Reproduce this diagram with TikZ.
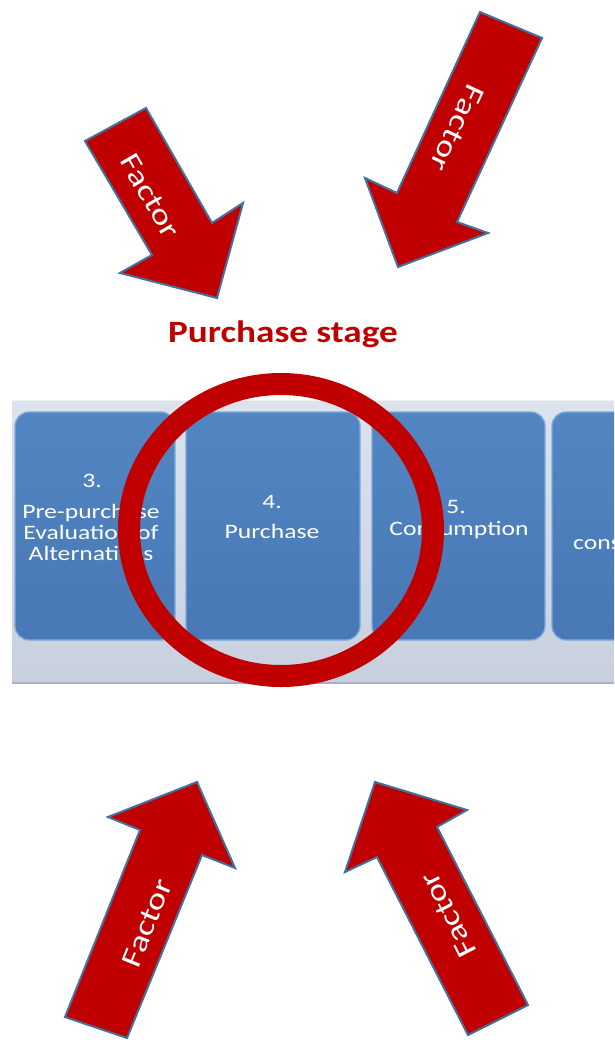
\documentclass[tikz,border=0pt]{standalone}
\usepackage{fontspec}
\setmainfont{Carlito}
\usetikzlibrary{shapes.geometric}
\definecolor{fred}{HTML}{C00000}
\definecolor{foutline}{HTML}{41719C}
\definecolor{boxtop}{HTML}{5286C2}
\definecolor{boxbot}{HTML}{4878B5}
\definecolor{boxedge}{HTML}{7EAADD}
\definecolor{bandtop}{HTML}{DDE3EC}
\definecolor{bandbot}{HTML}{C8D0DF}
\definecolor{bandedge}{HTML}{A7B1C2}
\tikzset{
  factorarrow/.style={fill=fred, draw=foutline, line width=2pt, line join=miter},
  factortext/.style={text=white, font=\fontsize{29}{32}\selectfont, inner sep=0pt},
  stagebox/.style={rounded corners=14pt, top color=boxtop, bottom color=boxbot, draw=boxedge, line width=1.3pt},
  boxtext/.style={text=white, font=\fontsize{20.5}{21}\selectfont, inner sep=0pt, anchor=base},
}
\newcommand{\wide}[2]{\scalebox{#1}[1]{#2}}
\begin{document}
\begin{tikzpicture}[x=1pt,y=-1pt]
\useasboundingbox (0,0) rectangle (614,1042);
\clip (0,0) rectangle (614,1042);
\fill[white] (0,0) rectangle (614,1042);

% band
\shade[top color=bandtop, bottom color=bandbot] (12,400) rectangle (640,683);
\draw[bandedge, line width=1.5pt] (12,683) -- (640,683);
\draw[white!85!bandedge, line width=1pt] (12,400.5) -- (640,400.5);

% boxes
\path[stagebox] (15,412) rectangle (175,640);
\path[stagebox] (186,412) rectangle (360,640);
\path[stagebox] (372,412) rectangle (545,640);
\path[stagebox] (552,412) rectangle (730,640);

% box texts
\node[boxtext] (b1a) at (92,487) {\wide{1.25}{3.}};
\node[boxtext] (b1b) at (91,518) {\wide{1.25}{Pre-purchase}};
\node[boxtext] (b1c) at (91,539) {\wide{1.25}{Evaluation of}};
\node[boxtext] (b1d) at (91,560) {\wide{1.25}{Alternatives}};
\node[boxtext] (b2a) at (272,508) {\wide{1.25}{4.}};
\node[boxtext] (b2b) at (272,538) {\wide{1.25}{Purchase}};
\node[boxtext] (b3a) at (456,513) {\wide{1.25}{5.}};
\node[boxtext] (b3b) at (459,535) {\wide{1.25}{Consumption}};
\node[boxtext, anchor=base west] (b4a) at (573,549) {\wide{1.25}{consumption}};

% title
\node[text=fred, font=\bfseries\fontsize{31}{34}\selectfont, inner sep=0pt, anchor=base] (title) at (283,342) {\wide{1.2}{Purchase stage}};

% circle
\draw[fred, line width=22pt] (281,530) ellipse [x radius=152, y radius=146];

% arrows
\path[factorarrow] (85,141) -- (146,108) -- (212,223) -- (243,203) -- (217,298) -- (120,273) -- (152,255) -- cycle;
\node[factortext, rotate=-60] (f1) at (150,196) {\wide{1.25}{Factor}};

\path[factorarrow] (480,12) -- (542,38) -- (457,222) -- (488,233) -- (398,267) -- (365,178) -- (397,193) -- cycle;
\node[factortext, rotate=-115] (f2) at (457,128) {\wide{1.25}{Factor}};

\path[factorarrow] (65,1017) -- (140,830) -- (108,817) -- (197,782) -- (235,868) -- (202,855) -- (127,1038) -- cycle;
\node[factortext, rotate=68] (f3) at (147,923) {\wide{1.25}{Factor}};

\path[factorarrow] (528,1005) -- (437,827) -- (467,810) -- (375,782) -- (345,872) -- (377,857) -- (468,1035) -- cycle;
\node[factortext, rotate=117] (f4) at (448,915) {\wide{1.25}{Factor}};
\end{tikzpicture}
\end{document}
